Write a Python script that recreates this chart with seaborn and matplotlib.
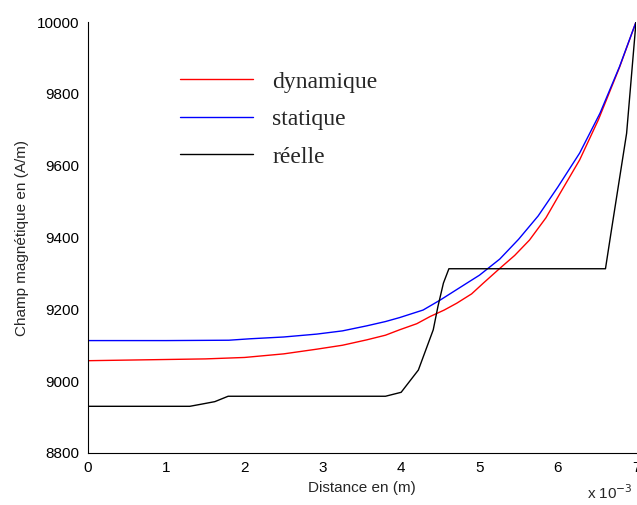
import pandas as pd
import matplotlib
matplotlib.use("Agg")
import matplotlib.pyplot as plt
import seaborn as sns

# distance in units of 1e-3 m, field in A/m
x_dyn = [0, 0.6, 1.5, 2.0, 2.5, 2.92, 3.25, 3.56, 3.8, 3.98, 4.2, 4.37, 4.55,
         4.71, 4.9, 5.05, 5.26, 5.45, 5.64, 5.85, 6.03, 6.28, 6.52, 6.79, 7.0]
y_dyn = [9057, 9059, 9062, 9066, 9076, 9089, 9100, 9115, 9128, 9143, 9160, 9180, 9198,
         9217, 9243, 9273, 9314, 9350, 9393, 9455, 9523, 9616, 9728, 9874, 10000]

x_stat = [0, 1.0, 1.8, 2.07, 2.5, 2.92, 3.25, 3.56, 3.8, 3.98, 4.28, 4.5, 4.84,
          5.0, 5.26, 5.5, 5.75, 6.0, 6.28, 6.54, 6.79, 7.0]
y_stat = [9113, 9113, 9114, 9118, 9123, 9131, 9140, 9154, 9166, 9177, 9198, 9226, 9273,
          9295, 9340, 9395, 9460, 9540, 9635, 9746, 9876, 10000]

x_reel = [0, 1.3, 1.45, 1.62, 1.79, 3.8, 4.0, 4.22, 4.41, 4.47, 4.54, 4.61,
          6.61, 6.68, 6.88, 7.0]
y_reel = [8930, 8930, 8936, 8943, 8958, 8958, 8969, 9031, 9143, 9208, 9273, 9313,
          9313, 9412, 9690, 10000]

x_ticks = [0, 1, 2, 3, 4, 5, 6, 7]
y_ticks = [8800, 9000, 9200, 9400, 9600, 9800, 10000]

sns.set_style("white")
plt.rcParams["font.family"] = ["Liberation Sans", "DejaVu Sans"]

fig = plt.figure(figsize=(6.37, 5.05), dpi=100)
ax = fig.add_axes([88 / 637, 52 / 505, 548 / 637, 431 / 505])

sns.lineplot(x=x_dyn, y=y_dyn, color="#ff0000", lw=1, sort=False, label="dynamique", ax=ax)
sns.lineplot(x=x_stat, y=y_stat, color="#0000ff", lw=1, sort=False, label="statique", ax=ax)
sns.lineplot(x=x_reel, y=y_reel, color="black", lw=1, sort=False, label="réelle", ax=ax)

ax.set_xlim(0, 7)
ax.set_ylim(8800, 10000)
ax.set_xticks(x_ticks)
ax.set_yticks(y_ticks)
ax.tick_params(direction="in", length=4, width=0.8, labelsize=11, pad=6, colors="black")
for s in ["top", "right"]:
    ax.spines[s].set_visible(False)
for s in ["left", "bottom"]:
    ax.spines[s].set_color("black")
    ax.spines[s].set_linewidth(0.8)

ax.set_xlabel("Distance en (m)", fontsize=11, labelpad=4)
ax.set_ylabel("Champ magnétique en (A/m)", fontsize=11, labelpad=6)
fig.text(0.957, 0.006, r"x 10$^{-3}$", fontsize=11, ha="center", va="bottom")

leg = ax.legend(loc="upper left", bbox_to_anchor=(180 / 637, 1 - 71 / 505),
                bbox_transform=fig.transFigure, frameon=False, borderpad=0,
                borderaxespad=0, handlelength=3.1, handletextpad=0.8,
                labelspacing=0.68, prop={"family": "Liberation Serif", "size": 17})

fig.savefig("out.png", dpi=100)
